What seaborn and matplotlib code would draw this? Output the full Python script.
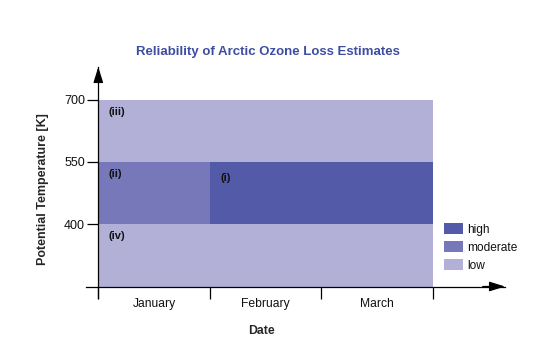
import matplotlib
matplotlib.use("Agg")
import matplotlib.pyplot as plt
from matplotlib.patches import Patch
import seaborn as sns

# ---- data ----
months = ["January", "February", "March"]
month_edges = [0, 1, 2, 3]
y_ticks = [400, 550, 700]
levels = ["high", "moderate", "low"]
level_colors = ["#535BA9", "#7678BA", "#B3B0D8"]

region_labels = ["(iii)", "(iv)", "(ii)", "(i)"]
region_start = [0, 0, 0, 1]
region_end = [3, 3, 1, 3]
region_bottom = [550, 250, 400, 400]
region_top = [700, 400, 550, 550]
region_level = ["low", "low", "moderate", "high"]
label_offset_y = [-5, -5, -5, -8]

title = "Reliability of Arctic Ozone Loss Estimates"
xlabel = "Date"
ylabel = "Potential Temperature [K]"

# ---- style ----
sns.set_theme(style="white")
plt.rcParams["font.family"] = ["Liberation Sans", "DejaVu Sans"]

W, H = 551, 360
fig = plt.figure(figsize=(W / 100, H / 100), dpi=100)

# axes geometry (pixels)
x0_px, x1_px = 86.4, 505.0
yb_px, yt_px = 298.0, 67.0
ax = fig.add_axes([x0_px / W, 1 - yb_px / H, (x1_px - x0_px) / W, (yb_px - yt_px) / H])
ax.set_facecolor("none")

px_per_month = 111.5
xmin = -(98.3 - x0_px) / px_per_month
xmax = (x1_px - 98.3) / px_per_month
px_per_unit = 62.3 / 150
ymin = 250 - (yb_px - 286.5) / px_per_unit
ymax = 250 + (286.5 - yt_px) / px_per_unit
ax.set_xlim(xmin, xmax)
ax.set_ylim(ymin, ymax)

color_of = dict(zip(levels, level_colors))
for lab, s, e, b, t, lev, oy in zip(region_labels, region_start, region_end,
                                    region_bottom, region_top, region_level, label_offset_y):
    ax.bar(s, t - b, width=e - s, bottom=b, align="edge",
           color=color_of[lev], edgecolor="none", linewidth=0, zorder=1)
    ax.annotate(lab, xy=(s, t), xytext=(7.5, oy), textcoords="offset points",
                ha="left", va="top", fontsize=8, fontweight="bold",
                color="#111111", zorder=3)

# spines as arrows
for side in ["top", "right"]:
    ax.spines[side].set_visible(False)
ax.spines["left"].set_position(("data", 0))
ax.spines["bottom"].set_position(("data", 250))
for side in ["left", "bottom"]:
    ax.spines[side].set_color("black")
    ax.spines[side].set_linewidth(0.9)
    ax.spines[side].set_zorder(4)

arrow_style = "-|>,head_length=0.8,head_width=0.25"
ax.annotate("", xy=(0, ymax), xytext=(0, ymax - 20),
            arrowprops=dict(arrowstyle=arrow_style,
                            color="black", lw=0.9, shrinkA=0, shrinkB=0),
            annotation_clip=False, zorder=5)
ax.annotate("", xy=(xmax, 250), xytext=(xmax - 0.2, 250),
            arrowprops=dict(arrowstyle=arrow_style,
                            color="black", lw=0.9, shrinkA=0, shrinkB=0),
            annotation_clip=False, zorder=5)

# ticks
ax.set_yticks(y_ticks)
ax.set_yticklabels([str(v) for v in y_ticks])
ax.tick_params(axis="y", which="major", direction="out", length=8, width=0.9,
               color="black", labelsize=9, pad=1.5, left=True, labelcolor="#111111")
ax.set_xticks(month_edges)
ax.set_xticklabels([])
ax.tick_params(axis="x", which="major", direction="out", length=8.5, width=0.9,
               color="black", bottom=True)
ax.set_xticks([m + 0.5 for m in range(len(months))], minor=True)
ax.set_xticklabels(months, minor=True)
ax.tick_params(axis="x", which="minor", length=0, labelsize=8.7, pad=8,
               labelcolor="#111111")

ax.set_xlabel(xlabel, fontsize=8.8, fontweight="bold")
ax.set_ylabel(ylabel, fontsize=9, fontweight="bold")
ax.xaxis.set_label_coords((261 - x0_px) / (x1_px - x0_px), -(331 - yb_px) / (yb_px - yt_px))
ax.yaxis.set_label_coords(-(x0_px - 43) / (x1_px - x0_px), (yb_px - 189) / (yb_px - yt_px))
ax.xaxis.label.set_va("center")
ax.yaxis.label.set_va("center")

fig.text(268 / W, 1 - 52.5 / H, title, ha="center", va="center",
         fontsize=9.5, fontweight="bold", color="#3D4EA2")

handles = [Patch(facecolor=c, edgecolor="none") for c in level_colors]
fig.legend(handles, levels, loc="upper left",
           bbox_to_anchor=(444 / W, 1 - 223 / H), frameon=False,
           fontsize=8.6, handlelength=1.55, handleheight=1.05,
           handletextpad=0.4, labelspacing=0.45, borderpad=0, borderaxespad=0,
           labelcolor="#111111")

fig.savefig("out.png", dpi=100)
